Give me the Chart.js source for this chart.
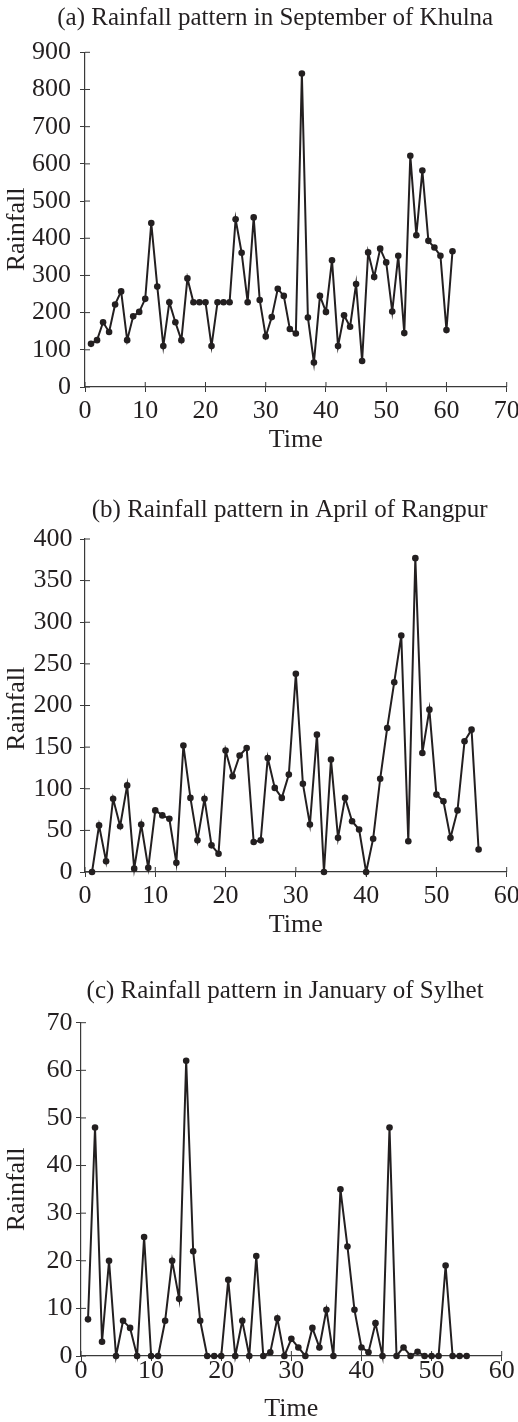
<!DOCTYPE html>
<html>
<head>
<meta charset="utf-8">
<title>Rainfall patterns</title>
<script src="https://cdn.jsdelivr.net/npm/chart.js@4.4.1/dist/chart.umd.min.js"></script>
<style>
  html, body { margin: 0; padding: 0; overflow: hidden; background: #fff; }
  .panel { position: absolute; left: 0; width: 530px; }
</style>
</head>
<body>
<div class="panel" style="top:0px;height:456px"><canvas id="chartA"></canvas></div>
<div class="panel" style="top:480px;height:461px"><canvas id="chartB"></canvas></div>
<div class="panel" style="top:960px;height:465px"><canvas id="chartC"></canvas></div>
<script>
// values, one per time step starting at 1
const rainKhulna = [116, 126, 174, 148, 222, 257, 126, 190, 202, 237,
    441, 270, 110, 228, 174, 126, 292, 228, 228, 228,
    110, 228, 228, 228, 451, 361, 228, 456, 234, 136,
    188, 264, 245, 156, 144, 843, 187, 66, 245, 202,
    341, 110, 193, 162, 277, 70, 362, 296, 372, 335,
    203, 353, 145, 622, 408, 582, 393, 375, 353, 153,
    365];
const rainRangpur = [0, 56, 13, 88, 55, 104, 4, 57, 5, 74,
    68, 64, 11, 152, 89, 38, 88, 32, 22, 146,
    115, 140, 149, 36, 38, 137, 101, 89, 117, 238,
    106, 57, 165, 0, 135, 41, 89, 61, 51, 0,
    40, 112, 173, 228, 284, 37, 377, 143, 195, 93,
    85, 41, 74, 157, 171, 27];
const rainSylhet = [7.7, 48, 3, 20, 0, 7.4, 5.9, 0, 25, 0,
    0, 7.4, 20, 12, 62, 22, 7.4, 0, 0, 0,
    16, 0, 7.4, 0, 21, 0, 0.8, 7.9, 0, 3.6,
    1.8, 0, 5.9, 1.8, 9.7, 0, 35, 23, 9.7, 1.8,
    0.8, 6.9, 0, 48, 0, 1.8, 0, 0.9, 0, 0,
    0, 19, 0, 0, 0];

const timeTicksA = [0, 10, 20, 30, 40, 50, 60, 70];
const rainTicksA = [0, 100, 200, 300, 400, 500, 600, 700, 800, 900];
const timeTicksB = [0, 10, 20, 30, 40, 50, 60];
const rainTicksB = [0, 50, 100, 150, 200, 250, 300, 350, 400];
const timeTicksC = [0, 10, 20, 30, 40, 50, 60];
const rainTicksC = [0, 10, 20, 30, 40, 50, 60, 70];

Chart.defaults.font.family = "'Liberation Serif', 'Times New Roman', serif";
Chart.defaults.font.size = 26;
Chart.defaults.color = '#231f20';

const ink = '#231f20';
const axisColor = '#3a3a3a';

// tick marks in the figure cross the axis, Chart.js only draws the outer half
const innerTicks = {
    id: 'innerTicks',
    beforeDatasetsDraw(chart) {
        const { ctx, chartArea, scales } = chart;
        ctx.save();
        ctx.strokeStyle = axisColor;
        ctx.lineWidth = 1;
        ctx.beginPath();
        scales.x.ticks.forEach((t, i) => {
            const px = scales.x.getPixelForTick(i);
            ctx.moveTo(px, chartArea.bottom);
            ctx.lineTo(px, chartArea.bottom - 5);
        });
        scales.y.ticks.forEach((t, i) => {
            const py = scales.y.getPixelForTick(i);
            ctx.moveTo(chartArea.left, py);
            ctx.lineTo(chartArea.left + 5, py);
        });
        ctx.stroke();
        ctx.restore();
    }
};

function makeChart(id, title, values, xTicks, yTicks, box) {
    new Chart(document.getElementById(id), {
        type: 'line',
        data: {
            datasets: [{
                data: values.map((v, i) => ({ x: i + 1, y: v })),
                borderColor: ink,
                borderWidth: 2,
                pointRadius: 3.3,
                pointBackgroundColor: ink,
                pointBorderWidth: 0,
                tension: 0,
                clip: false
            }]
        },
        options: {
            responsive: true,
            maintainAspectRatio: false,
            animation: false,
            layout: { padding: { left: 0, top: 0, bottom: 0, right: box.right } },
            plugins: {
                legend: { display: false },
                tooltip: { enabled: false },
                title: {
                    display: true,
                    // padding spaces nudge the centred title sideways, as placed in the figure
                    text: box.titleLead + title + box.titleTrail,
                    fullSize: box.titleFull,
                    color: ink,
                    font: { size: 25, weight: 'normal' },
                    padding: { top: box.titleTop, bottom: box.titleBottom }
                }
            },
            scales: {
                x: {
                    type: 'linear',
                    min: xTicks[0],
                    max: xTicks[xTicks.length - 1],
                    afterBuildTicks: s => { s.ticks = xTicks.map(v => ({ value: v })); },
                    afterFit: s => { s.height = 69; },
                    grid: { drawOnChartArea: false, tickLength: 5, color: axisColor, lineWidth: 1 },
                    border: { color: axisColor, width: 1.2 },
                    ticks: { padding: box.xPad, maxRotation: 0, color: ink },
                    title: { display: true, text: 'Time', color: ink, padding: 0 }
                },
                y: {
                    type: 'linear',
                    min: yTicks[0],
                    max: yTicks[yTicks.length - 1],
                    afterBuildTicks: s => { s.ticks = yTicks.map(v => ({ value: v })); },
                    afterFit: s => { s.width = box.left; },
                    grid: { drawOnChartArea: false, tickLength: 5, color: axisColor, lineWidth: 1 },
                    border: { color: axisColor, width: 1.2 },
                    ticks: { padding: box.yPad, color: ink },
                    // same trick to nudge the rotated label down a little
                    title: { display: true, text: 'Rainfall' + box.yTitleShift, color: ink, padding: { top: 1.4, bottom: 0 } }
                }
            }
        },
        plugins: [innerTicks]
    });
}

makeChart('chartA', '(a) Rainfall pattern in September of Khulna', rainKhulna, timeTicksA, rainTicksA,
    { titleFull: true, titleLead: '       ', titleTrail: '', titleTop: 3.3, titleBottom: 19,
      left: 85, right: 23.3, xPad: 3.9, yPad: 9, yTitleShift: '   ' });
makeChart('chartB', '(b) Rainfall pattern in April of Rangpur', rainRangpur, timeTicksB, rainTicksB,
    { titleFull: false, titleLead: '', titleTrail: '  ', titleTop: 15.6, titleBottom: 13.4,
      left: 85, right: 23.3, xPad: 3.3, yPad: 7.5, yTitleShift: ' ' });
makeChart('chartC', '(c) Rainfall pattern in January of Sylhet', rainSylhet, timeTicksC, rainTicksC,
    { titleFull: false, titleLead: '', titleTrail: '  ', titleTop: 16.6, titleBottom: 16.1,
      left: 81, right: 28.3, xPad: -5.1, yPad: 3.5, yTitleShift: '' });
</script>
</body>
</html>
